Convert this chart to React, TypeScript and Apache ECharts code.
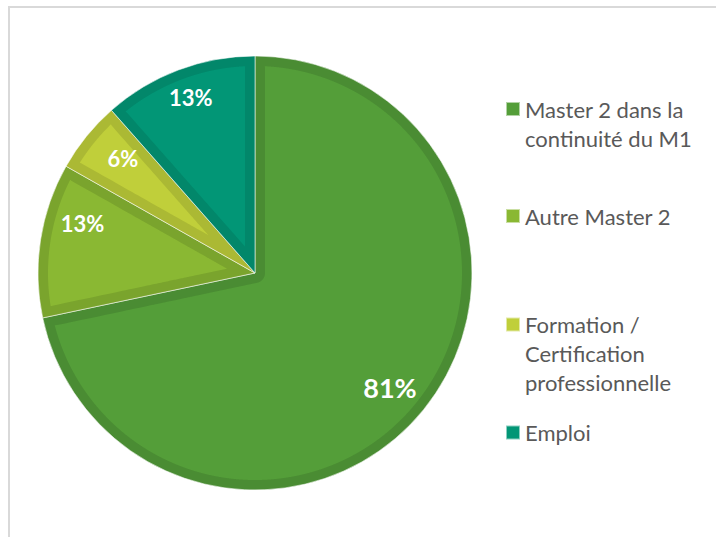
import React, { useEffect, useRef } from 'react';
import * as echarts from 'echarts';

const categories = [
  'Master 2 dans la continuité du M1',
  'Autre Master 2',
  'Formation / Certification professionnelle',
  'Emploi',
];
const legendLines = [
  ['Master 2 dans la', 'continuité du M1'],
  ['Autre Master 2'],
  ['Formation /', 'Certification', 'professionnelle'],
  ['Emploi'],
];
const values = [81, 13, 6, 13];
const fillColors = ['#549E39', '#8AB833', '#C0CF3A', '#029676'];
const borderColors = ['#4A8C33', '#7AA42D', '#ABB934', '#02876A'];

const CX = 255;
const CY = 273;
const R = 217;
const INSET = 10;
const LEGEND_LEFT = 505;
const LEGEND_CENTERS = [109, 216, 324.5, 432.5];
const LINE_H = 29;
const FONT = 'Lato, "Open Sans", sans-serif';
const LABEL_SHIFT = [
  [-6, 0],
  [7, -22],
  [9, 0],
  [0, -6],
];

export default function App() {
  const ref = useRef<HTMLDivElement>(null);
  useEffect(() => {
    if (!ref.current) return;
    const chart = echarts.init(ref.current, undefined, { renderer: 'svg' });
    const total = values.reduce((a, b) => a + b, 0);

    const renderItem = (params: any) => {
      const i = params.dataIndex;
      let before = 0;
      for (let k = 0; k < i; k++) before += values[k];
      const t0 = (before / total) * Math.PI * 2;
      const t1 = ((before + values[i]) / total) * Math.PI * 2;
      const Ro = R - INSET;
      const outer: number[][] = [];
      const inner: number[][] = [];
      const steps = Math.max(60, Math.ceil((t1 - t0) / ((0.1 * Math.PI) / 180)));
      for (let s = 0; s <= steps; s++) {
        const t = t0 + ((t1 - t0) * s) / steps;
        const a = Math.min(t - t0, Math.PI / 2);
        const b = Math.min(t1 - t, Math.PI / 2);
        const sn = Math.min(Math.sin(a), Math.sin(b));
        let rmin = sn > 0 ? INSET / sn : Ro;
        if (rmin > Ro) rmin = Ro;
        outer.push([CX + Ro * Math.sin(t), CY - Ro * Math.cos(t)]);
        inner.push([CX + rmin * Math.sin(t), CY - rmin * Math.cos(t)]);
      }
      return {
        type: 'polygon',
        shape: { points: outer.concat(inner.reverse()) },
        style: { fill: fillColors[i] },
      };
    };

    const pieData = categories.map((name, i) => ({
      name,
      value: values[i],
      itemStyle: { color: borderColors[i] },
    }));

    const legends = categories.map((name, i) => {
      const lines = legendLines[i];
      const text = '\n'.repeat(lines.length - 1) + lines.join('\n');
      const h = (2 * lines.length - 1) * LINE_H;
      return {
        show: true,
        orient: 'vertical',
        left: LEGEND_LEFT,
        top: LEGEND_CENTERS[i] - h / 2,
        padding: 0,
        itemWidth: 14,
        itemHeight: 14,
        icon: 'rect',
        selectedMode: false,
        data: [{ name, itemStyle: { color: fillColors[i] } }],
        formatter: () => text,
        textStyle: {
          color: '#595959',
          fontFamily: FONT,
          fontSize: 22,
          lineHeight: LINE_H,
        },
      };
    });

    chart.setOption({
      animation: false,
      backgroundColor: '#ffffff',
      legend: legends,
      graphic: [
        {
          type: 'rect',
          silent: true,
          shape: { x: 9, y: 7, width: 730, height: 560 },
          style: { fill: 'none', stroke: '#d9d9d9', lineWidth: 2 },
          z: 0,
        },
      ],
      series: [
        {
          type: 'pie',
          z: 1,
          center: [CX, CY],
          radius: [0, R],
          startAngle: 90,
          clockwise: true,
          silent: true,
          data: pieData,
          label: { show: false },
          labelLine: { show: false },
          itemStyle: { borderColor: 'rgba(255,255,255,0.55)', borderWidth: 1 },
          emphasis: { disabled: true },
        },
        {
          type: 'custom',
          z: 2,
          coordinateSystem: 'none',
          silent: true,
          data: values,
          renderItem,
        },
        {
          type: 'pie',
          z: 3,
          center: [CX, CY],
          radius: [140, R],
          startAngle: 90,
          clockwise: true,
          silent: true,
          data: categories.map((name, i) => ({ name, value: values[i] })),
          itemStyle: { color: 'rgba(0,0,0,0)' },
          labelLine: { show: false },
          emphasis: { disabled: true },
          avoidLabelOverlap: false,
          label: {
            show: true,
            position: 'inside',
            formatter: '{c}%',
            color: '#ffffff',
            fontFamily: FONT,
            fontWeight: 'bold',
            fontSize: 22,
          },
          labelLayout: (p: any) => {
            const [dx, dy] = LABEL_SHIFT[p.dataIndex];
            return p.dataIndex === 0 ? { fontSize: 27, dx, dy } : { dx, dy };
          },
        },
      ],
    });
    return () => chart.dispose();
  }, []);
  return (
    <div
      ref={ref}
      style={{ position: 'fixed', left: 0, top: 0, width: 716, height: 537, background: '#fff' }}
    />
  );
}
